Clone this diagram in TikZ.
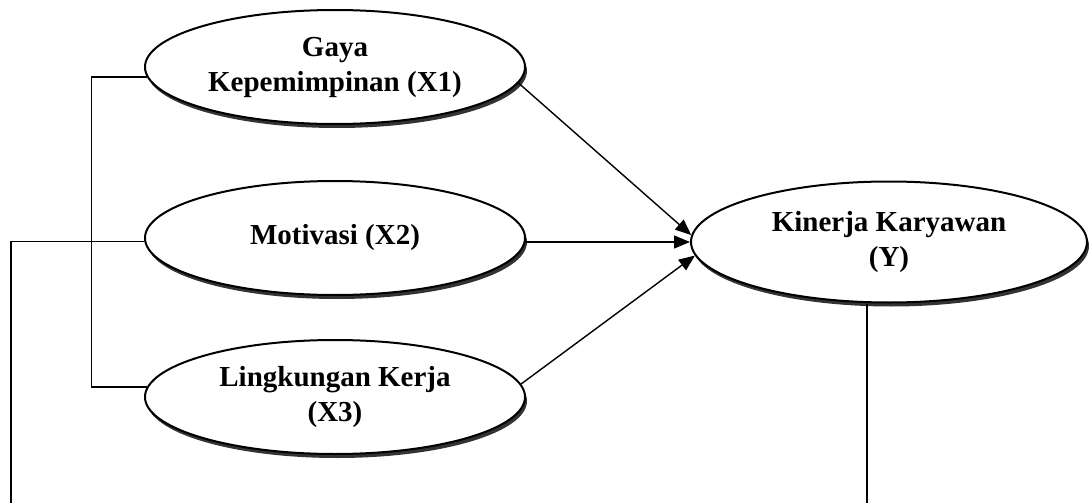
\documentclass[tikz,border=0pt]{standalone}
\usepackage{fontspec}
\setmainfont{Liberation Serif}
\usetikzlibrary{arrows.meta,shapes.geometric,shadows}

\begin{document}
\begin{tikzpicture}[x=0.5pt,y=-0.5pt,>={Triangle[length=8pt,width=6.5pt]},line width=0.7pt,
                    var node/.style={ellipse,draw,line width=1pt,fill=white,inner sep=0pt,
                      minimum width=190pt,minimum height=57pt,align=center,
                      font=\fontsize{14.5pt}{17.5pt}\selectfont\bfseries,
                      drop shadow={shadow xshift=1pt,shadow yshift=-2pt,fill=black!80,opacity=1}}]
  \useasboundingbox (0,0) rectangle (1089,503);

  \node[var node] (x1) at (335,67) {Gaya\\Kepemimpinan (X1)};
  \node[var node] (x2) at (335,238) {Motivasi (X2)};
  \node[var node] (x3) at (335,397) {Lingkungan Kerja\\(X3)};
  \node[var node,minimum width=198pt,minimum height=60.5pt] (y) at (889,242) {Kinerja Karyawan\\(Y)};

  \coordinate (lend) at (11,503);
  \coordinate (rend) at (867,503);

  % lines on the left and below
  \draw (x1.183) -- ++(-55,0) |- (x3.177);
  \draw (x2.181) -| (lend);
  \draw (rend |- y.south) -- (rend);

  % arrows into Y
  \draw[->] (x1.-5) -- (y.178);
  \draw[->] (x2.east |- y.west) -- (y.west);
  \draw[->] (x3.4) -- (y.184);
\end{tikzpicture}
\end{document}
